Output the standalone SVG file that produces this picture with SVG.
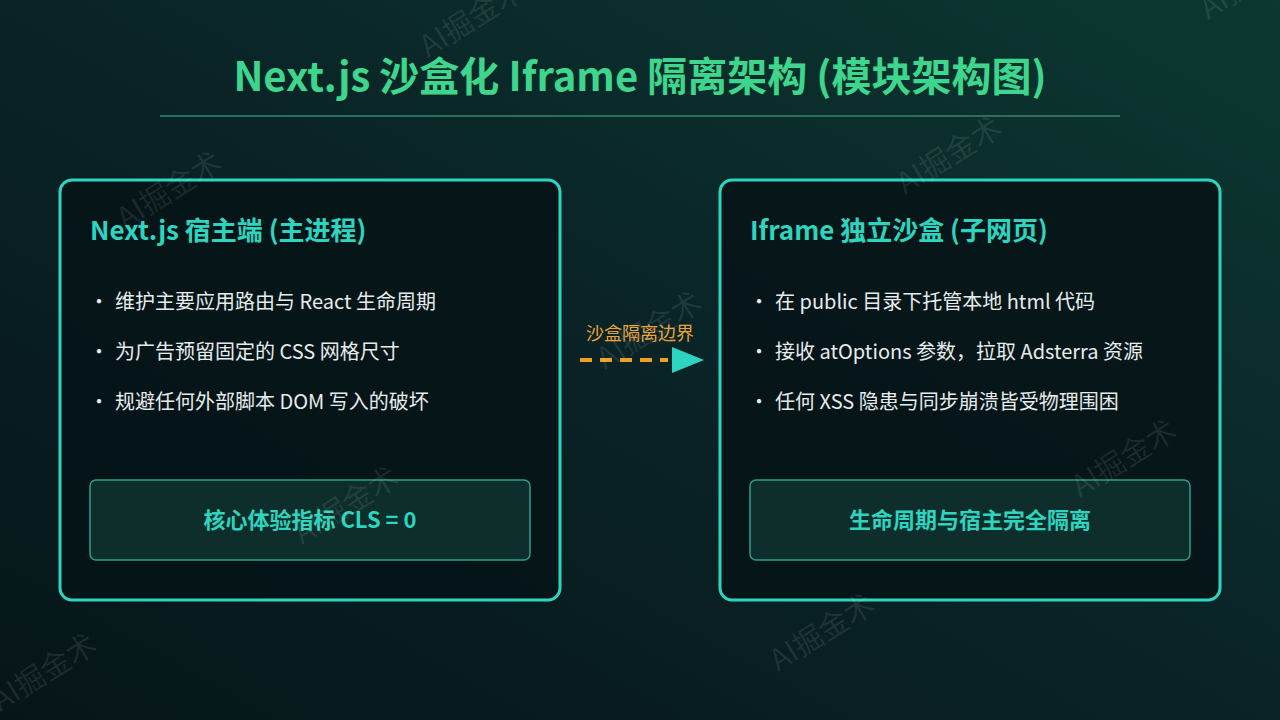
<svg xmlns="http://www.w3.org/2000/svg" width="1280" height="720" viewBox="0 0 1280 720">
  <defs>
    <linearGradient id="bg" x1="0" y1="1" x2="1" y2="0">
      <stop offset="0" stop-color="#061518"/>
      <stop offset="0.5" stop-color="#0a2326"/>
      <stop offset="1" stop-color="#0c3831"/>
    </linearGradient>
  </defs>
  <style>
    text { font-family: "Noto Sans CJK SC", "Noto Sans", "Liberation Sans", sans-serif; }
    .title { font-size: 40px; font-weight: 700; fill: #3dd68c; }
    .panel { fill: #061417; fill-opacity: 0.9; stroke: #2dd4bf; stroke-width: 3; }
    .head { font-size: 26px; font-weight: 700; fill: #2dd4bf; }
    .item { font-size: 20px; fill: #e6ecec; }
    .inner { fill: #0d2e2b; stroke: #2a9d8f; stroke-width: 1.5; }
    .innerText { font-size: 22px; font-weight: 700; fill: #2dd4bf; text-anchor: middle; }
    .wm { font-size: 30px; fill: #ffffff; fill-opacity: 0.09; }
    .edgeLabel { font-size: 18px; fill: #e8a33a; text-anchor: middle; }
  </style>
  <rect x="0" y="0" width="1280" height="720" fill="url(#bg)"/>

  <g id="title">
    <text class="title" x="640" y="91" text-anchor="middle">Next.js 沙盒化 Iframe 隔离架构 (模块架构图)</text>
    <line x1="160" y1="116" x2="1120" y2="116" stroke="#2b6e5c" stroke-width="2"/>
  </g>

  <g id="host">
    <rect class="panel" x="60" y="180" width="500" height="420" rx="12"/>
    <text class="head" x="90" y="240">Next.js 宿主端 (主进程)</text>
    <text class="item" x="89" y="309">・</text>
    <text class="item" x="115" y="309">维护主要应用路由与 React 生命周期</text>
    <text class="item" x="89" y="359">・</text>
    <text class="item" x="115" y="359">为广告预留固定的 CSS 网格尺寸</text>
    <text class="item" x="89" y="409">・</text>
    <text class="item" x="115" y="409">规避任何外部脚本 DOM 写入的破坏</text>
    <rect class="inner" x="90" y="480" width="440" height="80" rx="6"/>
    <text class="innerText" x="310" y="528">核心体验指标 CLS = 0</text>
  </g>

  <g id="sandbox">
    <rect class="panel" x="720" y="180" width="500" height="420" rx="12"/>
    <text class="head" x="750" y="240">Iframe 独立沙盒 (子网页)</text>
    <text class="item" x="749" y="309">・</text>
    <text class="item" x="775" y="309">在 public 目录下托管本地 html 代码</text>
    <text class="item" x="749" y="359">・</text>
    <text class="item" x="775" y="359">接收 atOptions 参数，拉取 Adsterra 资源</text>
    <text class="item" x="749" y="409">・</text>
    <text class="item" x="775" y="409">任何 XSS 隐患与同步崩溃皆受物理围困</text>
    <rect class="inner" x="750" y="480" width="440" height="80" rx="6"/>
    <text class="innerText" x="970" y="528">生命周期与宿主完全隔离</text>
  </g>

  <g id="connectors">
    <text class="edgeLabel" x="640" y="340">沙盒隔离边界</text>
    <line x1="580" y1="360" x2="668" y2="360" stroke="#f0a020" stroke-width="4" stroke-dasharray="12 8"/>
    <path d="M672,347 L704,360 L672,373 Z" fill="#2dd4bf"/>
  </g>

  <g id="watermarks">
    <text class="wm" transform="translate(125,230) rotate(-32)">AI掘金术</text>
    <text class="wm" transform="translate(428,58) rotate(-32)">AI掘金术</text>
    <text class="wm" transform="translate(0,712) rotate(-32)">AI掘金术</text>
    <text class="wm" transform="translate(302,545) rotate(-32)">AI掘金术</text>
    <text class="wm" transform="translate(605,370) rotate(-32)">AI掘金术</text>
    <text class="wm" transform="translate(905,195) rotate(-32)">AI掘金术</text>
    <text class="wm" transform="translate(1208,20) rotate(-32)">AI掘金术</text>
    <text class="wm" transform="translate(778,672) rotate(-32)">AI掘金术</text>
    <text class="wm" transform="translate(1080,498) rotate(-32)">AI掘金术</text>
  </g>
</svg>
